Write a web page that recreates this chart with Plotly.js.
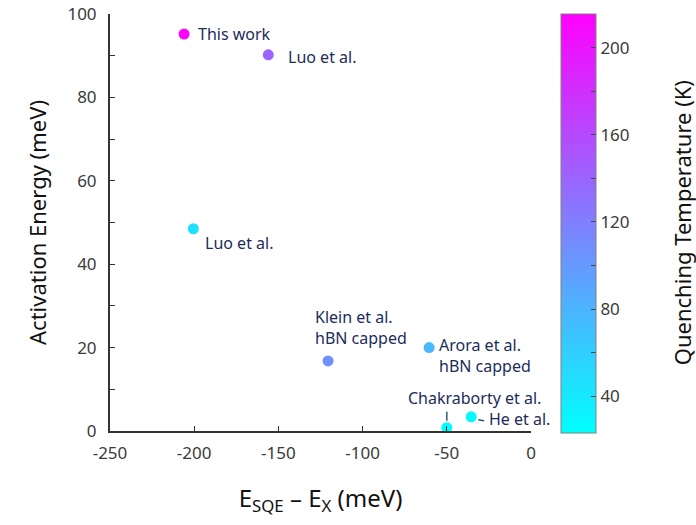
<!DOCTYPE html>
<html>
<head>
<meta charset="utf-8">
<script src="https://cdn.plot.ly/plotly-3.0.1.min.js"></script>
<style>html,body{margin:0;padding:0;background:#fff;}#chart{width:696px;height:525px;}</style>
</head>
<body>
<div id="chart"></div>
<script>
const labels = ["This work", "Luo et al.", "Luo et al.", "Klein et al.<br>hBN capped", "Arora et al.<br>hBN capped", "Chakraborty et al.", "He et al."];
const deltaE = [-206, -156, -200.5, -120.5, -60.5, -50, -35.5];
const activationEnergy = [95.2, 90.2, 48.5, 16.8, 20, 0.8, 3.4];
const quenchingTemp = [215, 140, 45, 105, 78, 24, 28];
const xTickVals = [-250, -200, -150, -100, -50, 0];
const xTickText = ["-250", "-200", "-150", "-100", "-50", "0"];
const yTickVals = [0, 20, 40, 60, 80, 100];
const cbTickVals = [40, 60, 80, 100, 120, 140, 160, 180, 200];
const cbTickText = ["40", "", "80", "", "120", "", "160", "", "200"];

// label placement (pixel offsets) relative to each point
const labelXShift = [12, 18, 10, -15, 8, 28, 16];
const labelYShift = [0, -2, -14, 33, -8, 30, -2];
const labelXAnchor = ["left", "left", "left", "left", "left", "center", "left"];
const labelAlign = ["left", "left", "left", "left", "left", "center", "left"];

const font = "'Noto Sans', 'Open Sans', sans-serif";
const navy = "#1c2c5c";
const tickGrey = "#3a3a3a";

const annotations = labels.map((t, i) => ({
  x: deltaE[i], y: activationEnergy[i], xref: "x", yref: "y",
  text: t, showarrow: false, xanchor: labelXAnchor[i], yanchor: "middle",
  xshift: labelXShift[i], yshift: labelYShift[i], align: labelAlign[i],
  font: {family: font, size: 16, color: navy}
}));
annotations.push({
  xref: "paper", yref: "paper", x: 1.358, y: 0.5, xanchor: "center", yanchor: "middle",
  text: "Quenching Temperature (K)", textangle: -90, showarrow: false,
  font: {family: font, size: 22, color: "#111"}
});

const shapes = [
  {type: "line", xref: "x", yref: "y", xsizemode: "pixel", ysizemode: "pixel",
   xanchor: deltaE[5], yanchor: activationEnergy[5], x0: 0, x1: 0, y0: 7, y1: 20,
   line: {color: "#2a5a7a", width: 1.5, dash: "dash"}},
  {type: "line", xref: "x", yref: "y", xsizemode: "pixel", ysizemode: "pixel",
   xanchor: deltaE[6], yanchor: activationEnergy[6], x0: 7, x1: 13, y0: -3, y1: -4,
   line: {color: "#2a5a7a", width: 1.5}}
];

const trace = {
  type: "scatter", mode: "markers",
  x: deltaE, y: activationEnergy,
  marker: {
    size: 11, color: quenchingTemp, cmin: 23, cmax: 215.6,
    colorscale: [[0, "#00ffff"], [1, "#ff00ff"]],
    line: {width: 0},
    colorbar: {
      thickness: 35, thicknessmode: "pixels",
      len: 419, lenmode: "pixels",
      x: 1.071, xanchor: "left", xref: "paper",
      y: 1, yanchor: "top", yref: "paper", ypad: 0, xpad: 0,
      outlinecolor: "#808080", outlinewidth: 1,
      tickmode: "array", tickvals: cbTickVals, ticktext: cbTickText,
      ticks: "inside", ticklen: 5, tickcolor: "#444",
      tickfont: {family: font, size: 17, color: tickGrey},
      title: {text: ""}
    }
  },
  hoverinfo: "skip", showlegend: false
};

const layout = {
  width: 696, height: 525,
  margin: {l: 110, r: 165, t: 14, b: 94},
  paper_bgcolor: "#fff", plot_bgcolor: "#fff",
  xaxis: {
    range: [-250, 0], tickmode: "array", tickvals: xTickVals, ticktext: xTickText,
    ticks: "inside", ticklen: 5, tickcolor: "#333", tickwidth: 1,
    ticklabelstandoff: 6,
    showline: true, linecolor: "#333", linewidth: 2, mirror: false,
    showgrid: false, zeroline: false,
    tickfont: {family: font, size: 17, color: tickGrey},
    title: {text: "E<sub>SQE</sub> – E<sub>X</sub> (meV)", standoff: 27,
            font: {family: font, size: 24, color: "#111"}}
  },
  yaxis: {
    range: [0, 100], tickmode: "array", tickvals: yTickVals,
    ticks: "inside", ticklen: 5, tickcolor: "#333", tickwidth: 1,
    ticklabelstandoff: 8,
    minor: {dtick: 10, tick0: 0, ticks: "inside", ticklen: 5, tickcolor: "#333"},
    showline: true, linecolor: "#333", linewidth: 2, mirror: false,
    showgrid: false, zeroline: false,
    tickfont: {family: font, size: 17, color: tickGrey},
    title: {text: "Activation Energy (meV)", standoff: 15,
            font: {family: font, size: 22, color: "#111"}}
  },
  annotations: annotations,
  shapes: shapes
};

Plotly.newPlot("chart", [trace], layout, {displayModeBar: false, staticPlot: true});
</script>
</body>
</html>
